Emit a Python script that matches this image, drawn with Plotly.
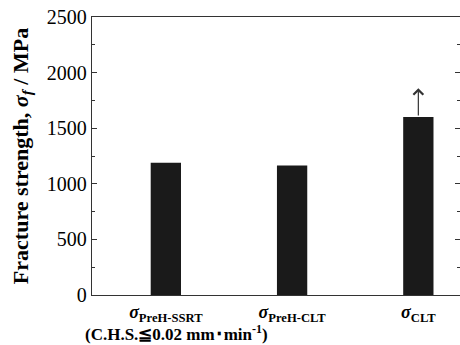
import plotly.graph_objects as go

categories = ["<i>σ</i><sub>PreH-SSRT</sub>", "<i>σ</i><sub>PreH-CLT</sub>", "<i>σ</i><sub>CLT</sub>"]
strength = [1190, 1165, 1600]
arrow_top = [None, None, 1860]
y_ticks = [0, 500, 1000, 1500, 2000, 2500]

FONT = "Liberation Serif, Times New Roman, serif"

fig = go.Figure()
fig.add_trace(go.Bar(x=categories, y=strength, width=0.24,
                     marker=dict(color="#1a1a1a", line=dict(width=0)),
                     showlegend=False))

for c, v, t in zip(categories, strength, arrow_top):
    if t is not None:
        fig.add_annotation(x=c, y=t, ax=c, ay=v, xref="x", yref="y",
                           axref="x", ayref="y", text="", showarrow=True,
                           arrowhead=4, arrowsize=1.6, arrowwidth=1.2,
                           arrowcolor="#333333", standoff=0, startstandoff=0)

fig.add_annotation(x=-0.025, y=-0.135, xref="paper", yref="paper",
                   xanchor="left", yanchor="middle", showarrow=False,
                   text="<b>(C.H.S.≦0.02 mm･min<sup>-1</sup>)</b>",
                   font=dict(family=FONT, size=17, color="black"))

fig.update_layout(
    width=460, height=345,
    margin=dict(l=92, r=0, t=17, b=50),
    paper_bgcolor="white", plot_bgcolor="white",
    font=dict(family=FONT, color="black"),
    bargap=0.5,
)
fig.update_xaxes(
    type="category", range=[-0.585, 2.33],
    showline=True, linecolor="#333333", linewidth=1.3, mirror=True,
    ticks="", showgrid=False, zeroline=False,
    tickfont=dict(family=FONT, size=18, color="black"),
    tickprefix="<b>", ticksuffix="</b>",
)
fig.update_yaxes(
    range=[0, 2500], tickvals=y_ticks,
    showline=True, linecolor="#333333", linewidth=1.3, mirror="ticks",
    ticks="inside", ticklen=5, tickcolor="#333333", tickwidth=1,
    minor=dict(ticks="inside", ticklen=3, dtick=250, tickcolor="#333333", showgrid=False),
    showgrid=False, zeroline=False,
    tickfont=dict(family=FONT, size=20, color="black"),
    title=dict(text="<b>Fracture strength, <i>σ<sub>f</sub></i> / MPa</b>",
               font=dict(family=FONT, size=22, color="black"), standoff=12),
)

fig.write_html("out.html")
